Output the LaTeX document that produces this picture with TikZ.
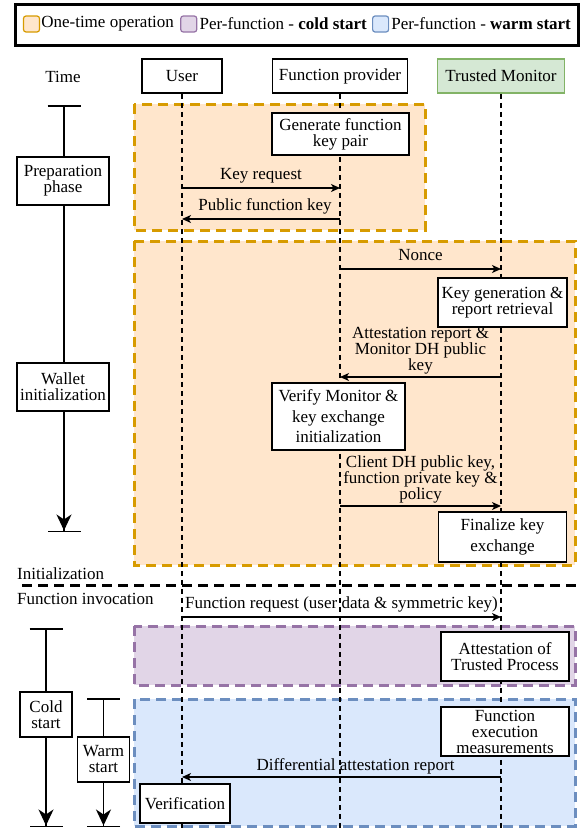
\documentclass[tikz,border=0pt]{standalone}
\usepackage{fontspec}
\setmainfont{Liberation Serif}
\usepackage{tikz}
\usetikzlibrary{positioning}
\usetikzlibrary{arrows.meta}
\definecolor{onefill}{HTML}{FFE6CC}
\definecolor{onedraw}{HTML}{D79B00}
\definecolor{coldfill}{HTML}{E1D5E7}
\definecolor{colddraw}{HTML}{9673A6}
\definecolor{warmfill}{HTML}{DAE8FC}
\definecolor{warmdraw}{HTML}{6C8EBF}
\definecolor{tmfill}{HTML}{D5E8D4}
\definecolor{tmdraw}{HTML}{82B366}
\tikzset {
  % all text of the figure
  every node/.style={font=\fontsize{17}{16}\selectfont},
  % actors and activities
  box/.style={draw, fill=white, line width=1.5pt, align=center, inner sep=1pt},
  % phase regions
  region/.style={line width=3pt, dash pattern=on 10pt off 6pt},
  onetime/.style={region, draw=onedraw, fill=onefill},
  coldstart/.style={region, draw=colddraw, fill=coldfill},
  warmstart/.style={region, draw=warmdraw, fill=warmfill},
  % legend entries
  swatch/.style={rounded corners=2.5pt, line width=1.2pt, minimum size=16pt, inner sep=0pt},
  legend/.style={inner sep=0pt},
  % lifelines and messages
  lifeline/.style={line width=1.4pt, dash pattern=on 5pt off 4pt},
  msg/.style={line width=1.3pt, -{Stealth[length=9pt,width=8pt,inset=2.5pt]}},
  msgtext/.style={midway, above=4pt, inner sep=0pt, align=center, text depth=3.5pt},
  % time axes
  timeline/.style={line width=1.5pt, {Bar[width=33pt]}-{Stealth[length=16pt,width=15pt,inset=5pt]Bar[width=33pt]}},
  sepline/.style={line width=3pt, dash pattern=on 10pt off 6pt},
}
\begin{document}
\begin{tikzpicture}[x=1pt, y=-1pt]
  \useasboundingbox (0,0) rectangle (580,830);

  % legend
  \draw[line width=3pt] (15.5,4.5) rectangle (578.5,45);
  \node[swatch, draw=onedraw, fill=onefill] (sw1) at (31.5,24) {};
  \node[legend, right=1pt of sw1] (lg1) {One-time operation};
  \node[swatch, draw=colddraw, fill=coldfill, right=6pt of lg1] (sw2) {};
  \node[legend, right=2pt of sw2] (lg2) {Per-function - \textbf{cold start}};
  \node[swatch, draw=warmdraw, fill=warmfill, right=5pt of lg2] (sw3) {};
  \node[legend, right=2pt of sw3] (lg3) {Per-function - \textbf{warm start}};

  % phases
  \draw[onetime] (134,104) rectangle (425,230);
  \draw[onetime] (134,241) rectangle (575,565);
  \draw[coldstart] (134,626) rectangle (575,685);
  \draw[warmstart] (134,699) rectangle (575,826);

  % actors
  \node (time) at (63,77) {Time};
  \node[box, minimum width=80pt, minimum height=34pt] (user) at (182,76) {User};
  \node[box, minimum width=135pt, minimum height=34pt] (provider) at (340,76) {Function provider};
  \node[box, draw=tmdraw, fill=tmfill, minimum width=127pt, minimum height=34pt] (monitor) at (501,76) {Trusted Monitor};

  % lifelines
  \coordinate (bottom) at (0,828);
  \foreach \a in {user, provider, monitor} {
    \coordinate (\a-end) at (\a |- bottom);
    \draw[lifeline] (\a) -- (\a-end);
  }

  % time axes
  \coordinate (t1top) at (64,105);
  \coordinate (t1bot) at (64,532);
  \coordinate (coldtop) at (46,628);
  \coordinate (coldbot) at (46,827);
  \coordinate (warmtop) at (103.5,698);
  \coordinate (warmbot) at (103.5,827);
  \draw[timeline] (t1top) -- (t1bot);
  \draw[timeline] (coldtop) -- (coldbot);
  \draw[timeline] (warmtop) -- (warmbot);
  \node[box, minimum width=92pt, minimum height=48pt] (prep) at (63,181) {Preparation\\phase};
  \node[box, minimum width=92pt, minimum height=48pt] (wallet) at (63,387) {Wallet\\initialization};
  \node[box, minimum width=52pt, minimum height=45pt] (cold) at (46,714.5) {Cold\\start};
  \node[box, minimum width=52pt, minimum height=45pt] (warm) at (103.5,759.5) {Warm\\start};

  % initialization / invocation split
  \draw[sepline] (22,585) -- (580,585);
  \node[anchor=west, inner sep=0pt] (init) at (17,574) {Initialization};
  \node[anchor=west, inner sep=0pt] (invoc) at (17,599) {Function invocation};

  % activities
  \node[box, minimum width=137pt, minimum height=42pt] (genkey) at (340.5,134) {Generate function\\key pair};
  \node[box, minimum width=129pt, minimum height=49pt] (keygen) at (502.5,302.5) {Key generation \&\\report retrieval};
  \node[box, minimum width=133pt, minimum height=67pt] (verify) at (338.5,416.5) {Verify Monitor \&\\[4.5pt]key exchange\\[4.5pt]initialization};
  \node[box, minimum width=128pt, minimum height=50pt] (finalize) at (502.5,537) {Finalize key\\[5pt]exchange};
  \node[box, minimum width=128pt, minimum height=49pt] (attest) at (505,656.5) {Attestation of\\Trusted Process};
  \node[box, minimum width=128pt, minimum height=49pt] (measure) at (505,731.5) {Function\\execution\\measurements};
  \node[box, minimum width=90pt, minimum height=39pt] (verif) at (185,803.5) {Verification};

  % messages
  \coordinate (keyreq) at (0,188);
  \coordinate (pubkey) at (0,219);
  \coordinate (nonce) at (0,269);
  \coordinate (report) at (0,377);
  \coordinate (client) at (0,506);
  \coordinate (request) at (0,617);
  \coordinate (diff) at (0,777);
  \draw[msg] (user |- keyreq) -- (provider |- keyreq) node[msgtext] {Key request};
  \draw[msg] (provider |- pubkey) -- (user |- pubkey) node[msgtext, xshift=4pt] {Public function key};
  \draw[msg] (provider |- nonce) -- (monitor |- nonce) node[msgtext] {Nonce};
  \draw[msg] (monitor |- report) -- (provider |- report) node[msgtext, above=2pt] {Attestation report \&\\Monitor DH public\\key};
  \draw[msg] (provider |- client) -- (monitor |- client) node[msgtext, above=2pt] {Client DH public key,\\function private key \&\\policy};
  \draw[msg] (user |- request) -- (monitor |- request) node[msgtext] {Function request (user data \& symmetric key)};
  \draw[msg] (monitor |- diff) -- (user |- diff) node[msgtext, xshift=14pt, above=2pt] {Differential attestation report};
\end{tikzpicture}
\end{document}
